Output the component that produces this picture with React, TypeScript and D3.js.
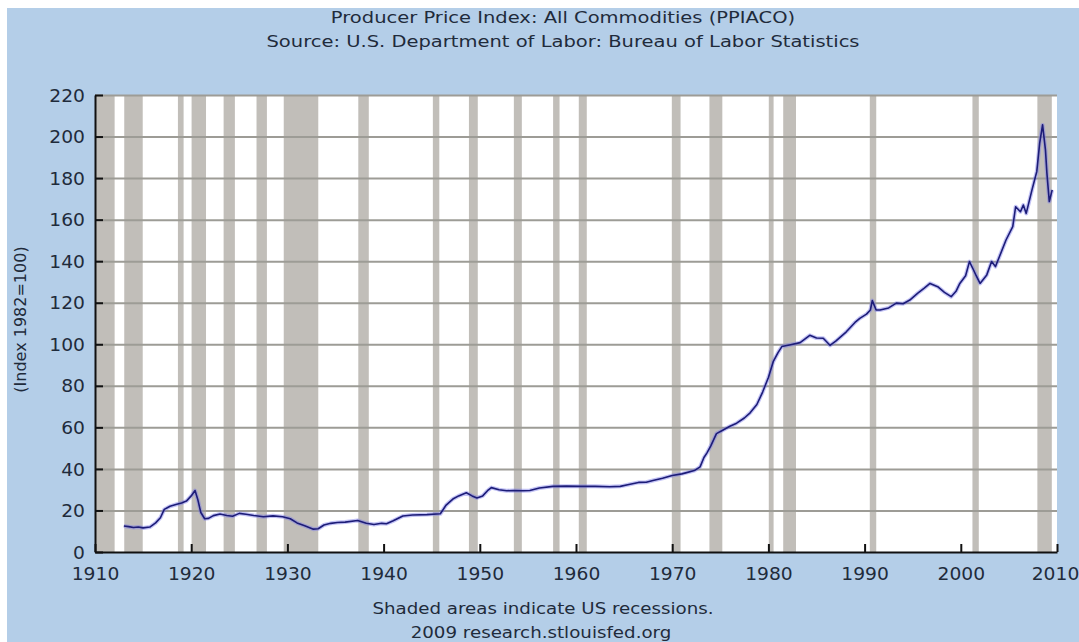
import React, { useRef, useEffect } from 'react';
import * as d3 from 'd3';

// PPI all commodities (decimal year, index)
const years = [
  1913.0, 1913.5, 1914.0, 1914.5, 1915.0, 1915.7, 1916.3, 1916.8, 1917.2, 1917.8,
  1918.5, 1919.0, 1919.5, 1920.0, 1920.4, 1920.7, 1921.0, 1921.4, 1921.8, 1922.3,
  1923.0, 1923.7, 1924.3, 1925.0, 1925.7, 1926.5, 1927.5, 1928.5, 1929.5, 1930.3,
  1931.0, 1931.8, 1932.7, 1933.2, 1933.8, 1934.5, 1935.2, 1936.0, 1937.3, 1938.2,
  1939.0, 1939.8, 1940.3, 1941.0, 1942.0, 1943.0, 1944.5, 1945.9, 1946.5, 1947.2,
  1947.8, 1948.6, 1949.2, 1949.7, 1950.3, 1950.8, 1951.2, 1952.0, 1952.8, 1953.5,
  1954.5, 1955.2, 1956.2, 1957.6, 1959.0, 1960.5, 1962.0, 1963.5, 1964.6, 1965.5,
  1966.5, 1967.3, 1968.0, 1969.0, 1970.0, 1971.0, 1971.5, 1972.3, 1972.9, 1973.3,
  1973.6, 1974.0, 1974.6, 1975.2, 1976.0, 1976.7, 1977.5, 1978.1, 1978.8, 1979.4,
  1980.0, 1980.5, 1981.0, 1981.4, 1982.3, 1983.3, 1984.3, 1985.0, 1985.7, 1986.4,
  1987.0, 1988.1, 1989.0, 1989.5, 1990.2, 1990.6, 1990.8, 1991.2, 1991.6, 1992.5,
  1993.3, 1994.0, 1994.7, 1995.5, 1996.2, 1996.8, 1997.6, 1998.3, 1999.0, 1999.5,
  1999.9, 2000.5, 2000.9, 2001.3, 2001.6, 2002.0, 2002.7, 2003.2, 2003.6, 2004.0,
  2004.7, 2005.4, 2005.7, 2006.2, 2006.5, 2006.8, 2007.4, 2007.9, 2008.2, 2008.5,
  2008.8, 2008.95, 2009.2, 2009.5,
];
const ppi = [
  12.5, 12.2, 11.8, 12.0, 11.6, 12.0, 14.0, 16.5, 20.5, 22.0,
  23.0, 23.6, 24.5, 27.0, 29.6, 25.0, 19.0, 16.0, 16.2, 17.5,
  18.3, 17.6, 17.2, 18.6, 18.2, 17.6, 17.0, 17.4, 17.0, 16.0,
  14.0, 12.6, 11.0, 11.2, 13.0, 13.8, 14.2, 14.4, 15.2, 13.8,
  13.2, 13.8, 13.6, 15.0, 17.3, 17.8, 18.0, 18.4, 22.6, 25.5,
  27.0, 28.5, 27.0, 26.0, 27.0, 29.5, 31.0, 30.0, 29.5, 29.6,
  29.5, 29.6, 30.8, 31.6, 31.7, 31.6, 31.6, 31.4, 31.6, 32.5,
  33.5, 33.6, 34.4, 35.5, 36.8, 37.6, 38.2, 39.2, 41.0, 45.5,
  47.6, 51.0, 57.0, 58.5, 60.5, 62.0, 64.5, 67.0, 71.0, 77.0,
  84.0, 91.6, 96.0, 98.9, 99.8, 100.8, 104.3, 103.0, 102.9, 99.5,
  101.5, 106.0, 110.5, 112.5, 114.5, 116.5, 121.0, 116.5, 116.5, 117.5,
  119.8, 119.5, 121.3, 124.5, 127.0, 129.3, 127.7, 125.0, 122.9, 125.5,
  129.3, 133.0, 139.8, 136.0, 133.0, 129.3, 133.4, 139.8, 137.4, 142.0,
  150.2, 156.6, 166.2, 163.8, 167.0, 163.0, 174.3, 183.2, 196.8, 205.6,
  193.6, 182.4, 168.7, 174.3,
];

// NBER recessions
const recessionStart = [
  1910.04, 1913.04, 1918.62, 1920.04, 1923.37, 1926.79, 1929.62, 1937.37, 1945.12, 1948.87,
  1953.54, 1957.62, 1960.29, 1969.96, 1973.87, 1980.04, 1981.54, 1990.54, 2001.21, 2007.96,
];
const recessionEnd = [
  1912.04, 1914.96, 1919.21, 1921.54, 1924.54, 1927.87, 1933.21, 1938.46, 1945.79, 1949.79,
  1954.37, 1958.29, 1961.12, 1970.87, 1975.21, 1980.54, 1982.87, 1991.21, 2001.87, 2009.46,
];

const yTicks = [0, 20, 40, 60, 80, 100, 120, 140, 160, 180, 200, 220];
const xTicks = [1910, 1920, 1930, 1940, 1950, 1960, 1970, 1980, 1990, 2000, 2010];

const App = () => {
  const svgRef = useRef<SVGSVGElement>(null);

  useEffect(() => {
    const svg = d3.select(svgRef.current);
    svg.selectAll('*').remove();
    const width = 1079;
    const height = 642;
    const margin = { top: 95, right: 22, bottom: 90, left: 95 };
    const plotW = width - margin.left - margin.right;
    const plotH = height - margin.top - margin.bottom;
    const textColor = '#1f2b3b';
    const font = 'DejaVu Sans, Verdana, sans-serif';
    const stretch = 1.1; // the reference text is a bit wide

    svg.append('rect').attr('width', width).attr('height', height).attr('fill', '#fff');
    svg.append('rect')
      .attr('x', 7).attr('y', 8)
      .attr('width', width - 7).attr('height', height - 8)
      .attr('fill', '#b4cee8');

    const x = d3.scaleLinear().domain([1910, 2010]).range([0, plotW]);
    const y = d3.scaleLinear().domain([0, 220]).range([plotH, 0]);

    const g = svg.append('g').attr('transform', `translate(${margin.left},${margin.top})`);

    g.append('rect').attr('width', plotW).attr('height', plotH).attr('fill', '#fff');

    g.append('g')
      .selectAll('rect')
      .data(recessionStart.map((s, i) => [s, recessionEnd[i]]))
      .enter().append('rect')
      .attr('x', d => x(d[0]))
      .attr('width', d => x(d[1]) - x(d[0]))
      .attr('y', 0)
      .attr('height', plotH)
      .attr('fill', '#c1beb9');

    // horizontal grid from an axis with full-width ticks
    const grid = g.append('g')
      .attr('class', 'grid')
      .call(d3.axisRight(y).tickValues(yTicks.slice(1)).tickSize(plotW).tickFormat(() => ''));
    grid.select('.domain').remove();
    grid.selectAll('.tick line')
      .attr('stroke', '#9d9c96')
      .attr('stroke-width', 2);

    const pts = years.map((yr, i) => [yr, ppi[i]] as [number, number]);
    const line = d3.line<[number, number]>().x(d => x(d[0])).y(d => y(d[1]));

    g.append('path').datum(pts)
      .attr('d', line)
      .attr('fill', 'none')
      .attr('stroke', '#7b7be8')
      .attr('stroke-opacity', 0.45)
      .attr('stroke-width', 4)
      .attr('stroke-linejoin', 'round');
    g.append('path').datum(pts)
      .attr('d', line)
      .attr('fill', 'none')
      .attr('stroke', '#1c1c78')
      .attr('stroke-width', 1.6)
      .attr('stroke-linejoin', 'round');

    const yAxis = g.append('g')
      .call(d3.axisLeft(y).tickValues(yTicks).tickSize(-8).tickSizeOuter(0).tickPadding(10));
    const xAxis = g.append('g')
      .attr('transform', `translate(0,${plotH})`)
      .call(d3.axisBottom(x).tickValues(xTicks).tickFormat(d3.format('d')).tickSize(-8).tickSizeOuter(0).tickPadding(16));

    [yAxis, xAxis].forEach(ax => {
      ax.select('.domain').attr('stroke', '#111').attr('stroke-width', 2);
      ax.selectAll('.tick line').attr('stroke', '#111').attr('stroke-width', 2);
      ax.selectAll('.tick text')
        .attr('fill', textColor)
        .style('font-family', font)
        .style('font-size', '17px');
    });
    yAxis.selectAll('.tick text').attr('dy', '0.36em');

    // widen tick labels around their anchor; keep the last year inside the frame
    [yAxis, xAxis].forEach(ax => {
      ax.selectAll<SVGTextElement, number>('.tick text').each(function (d) {
        const t = d3.select(this);
        const tx = +(t.attr('x') || 0) - (ax === xAxis && d === 2010 ? 2 : 0);
        const ty = +(t.attr('y') || 0);
        t.attr('x', 0).attr('y', 0)
          .attr('transform', `translate(${tx},${ty}) scale(${stretch},1)`);
      });
    });

    const addText = (cx: number, cy: number, size: number, sx: number, label: string) =>
      svg.append('text')
        .attr('transform', `translate(${cx},${cy}) scale(${sx},1)`)
        .attr('text-anchor', 'middle')
        .attr('fill', textColor)
        .style('font-family', font).style('font-size', `${size}px`)
        .text(label);

    addText(563, 23, 16, 1.22, 'Producer Price Index: All Commodities (PPIACO)');
    addText(563, 47, 16, 1.22, 'Source: U.S. Department of Labor: Bureau of Labor Statistics');
    addText(543, 614, 16, 1.14, 'Shaded areas indicate US recessions.');
    addText(541, 638, 16, 1.14, '2009 research.stlouisfed.org');

    svg.append('text')
      .attr('transform', `translate(26,${margin.top + plotH / 2 - 4}) rotate(-90)`)
      .attr('text-anchor', 'middle')
      .attr('fill', textColor)
      .style('font-family', font).style('font-size', '16px')
      .text('(Index 1982=100)');
  }, []);

  return (
    <svg ref={svgRef} width={1079} height={642}
      style={{ position: 'absolute', left: 0, top: 0, display: 'block' }} />
  );
};

export default App;
